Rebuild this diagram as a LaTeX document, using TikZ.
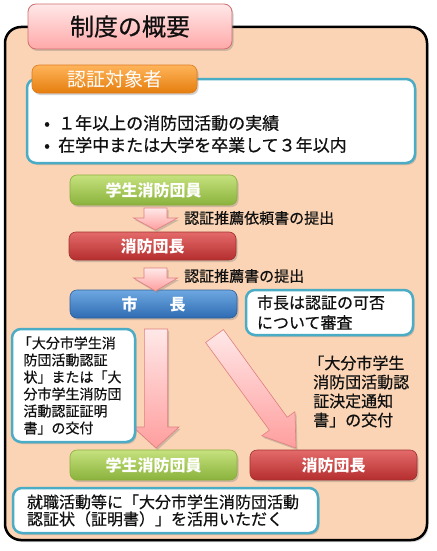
\documentclass[tikz,border=0pt]{standalone}
\usepackage{fontspec}
\setmainfont{Noto Sans CJK JP}
\newfontfamily\jpm[FakeBold=0.6]{Noto Sans CJK JP}
\usetikzlibrary{shadows,calc}
\definecolor{peach}{HTML}{FAD4B4}
\definecolor{nblue}{HTML}{4BACC6}
\definecolor{tttop}{HTML}{FFE8E8}
\definecolor{ttbot}{HTML}{FFA8A8}
\definecolor{ttline}{HTML}{D07070}
\definecolor{ortop}{HTML}{FFB45A}
\definecolor{orbot}{HTML}{E57E0E}
\definecolor{orline}{HTML}{E07B20}
\definecolor{grtop}{HTML}{C6E27E}
\definecolor{grbot}{HTML}{8AB23C}
\definecolor{grline}{HTML}{8AAE3B}
\definecolor{rdtop}{HTML}{E46A6A}
\definecolor{rdbot}{HTML}{B52E2E}
\definecolor{rdline}{HTML}{A03030}
\definecolor{bltop}{HTML}{6EA8E2}
\definecolor{blbot}{HTML}{2E6BB2}
\definecolor{blline}{HTML}{2F5F9A}
\definecolor{artop}{HTML}{FFE8E8}
\definecolor{arbot}{HTML}{FF9E9E}
\definecolor{arline}{HTML}{E08080}
\definecolor{txt}{HTML}{111111}
\newcommand{\blkarrow}[5]{%
  \coordinate (ba-h) at ($(#2)!#5!(#1)$);
  \draw[blockarrow] ($(#1)!#3!90:(#2)$) -- ($(ba-h)!#3!-90:(#1)$) -- ($(ba-h)!#4!-90:(#1)$) -- (#2) -- ($(ba-h)!#4!90:(#1)$) -- ($(ba-h)!#3!90:(#1)$) -- ($(#1)!#3!-90:(#2)$) -- cycle;}
\begin{document}
\begin{tikzpicture}[x=1pt,y=-1pt,
  shad/.style={drop shadow={shadow xshift=1.5pt,shadow yshift=-2pt,opacity=0.35}},
  colbox/.style={shad, rounded corners=7pt, minimum width=167pt, inner sep=0pt, text=white, font=\fontsize{16}{18}\selectfont\bfseries, line width=0.6pt},
  greenbox/.style={colbox, top color=grtop, bottom color=grbot, draw=grline},
  redbox/.style={colbox, top color=rdtop, bottom color=rdbot, draw=rdline},
  bluebox/.style={colbox, top color=bltop, bottom color=blbot, draw=blline},
  notebox/.style={shad, draw=nblue, line width=2.5pt, fill=white, rounded corners=9pt, inner sep=0pt, text=txt},
  blockarrow/.style={shad, top color=artop, bottom color=arbot, draw=arline, line width=0.6pt, line join=miter},
  lab/.style={anchor=west, inner sep=0pt, text=txt, font=\jpm\fontsize{15}{18}\selectfont}
]
\useasboundingbox (0,0) rectangle (436,551);
\fill[white] (0,0) rectangle (436,551);
% main frame
\draw[shad, line width=2.5pt, fill=peach, rounded corners=16pt] (5,27) rectangle (427,540);
% title
\node[shad, draw=ttline, line width=0.8pt, top color=tttop, bottom color=ttbot, rounded corners=8pt, minimum width=204pt, minimum height=45pt, inner sep=0pt, text=txt, font=\jpm\fontsize{24}{28}\selectfont] (title) at (130,26.5) {制度の概要};
% target box
\node[notebox, minimum width=388pt, minimum height=84pt] (critbox) at (221,121) {};
\node[anchor=west, align=left, inner sep=0pt, text=txt, font=\jpm\fontsize{17}{22}\selectfont] (crittext) at (44,134)
  {\makebox[14pt][l]{•}１年以上の消防団活動の実績\\\makebox[14pt][l]{•}在学中または大学を卒業して３年以内};
\node[colbox, top color=ortop, bottom color=orbot, draw=orline, minimum width=165pt, minimum height=28pt, font=\fontsize{19}{22}\selectfont] (crithead) at (114.5,79) {認証対象者};
% flow boxes
\node[greenbox, minimum height=30pt] (g1) at (153.5,190) {学生消防団員};
\node[redbox, minimum height=28pt] (r1) at (152.5,246) {消防団長};
\node[bluebox, minimum height=28pt] (b1) at (153.5,304) {市　　長};
\node[notebox, minimum width=167pt, minimum height=45pt, text width=145pt, align=left, font=\jpm\fontsize{16}{20}\selectfont] (shinsa) at (329.5,312.5) {市長は認証の可否\\について審査};
% arrows
\coordinate (a1s) at (155.5,208); \coordinate (a1t) at (155.5,230);
\coordinate (a2s) at (155.5,268); \coordinate (a2t) at (155.5,291);
\coordinate (a3s) at (156,329);   \coordinate (a3t) at (156,448);
\coordinate (a4s) at (214.5,336); \coordinate (a4t) at (296,448);
\blkarrow{a1s}{a1t}{11.5pt}{22pt}{12pt}
\blkarrow{a2s}{a2t}{11.5pt}{22pt}{13pt}
\blkarrow{a3s}{a3t}{11.7pt}{23pt}{21pt}
\blkarrow{a4s}{a4t}{11pt}{20.5pt}{30pt}
\node[lab] (lab1) at (184,218) {認証推薦依頼書の提出};
\node[lab] (lab2) at (184,276) {認証推薦書の提出};
% left note
\node[notebox, minimum width=123pt, minimum height=113pt, text width=100pt, align=left, font=\jpm\fontsize{14}{17}\selectfont] (lbox) at (73.5,385.5)
  {\hspace*{-0.4em}「大分市学生消\\防団活動認証\\状」または「大\\分市学生消防団\\活動認証証明\\書」の交付};
% right text
\node[anchor=west, align=left, inner sep=0pt, text=txt, font=\jpm\fontsize{16}{19}\selectfont] (rtext) at (313,391.5)
  {\hspace*{-0.3em}「大分市学生\\消防団活動認\\証決定通知\\書」の交付};
% bottom boxes
\node[greenbox, minimum height=30pt] (g2) at (153.5,465) {学生消防団員};
\node[redbox, minimum height=30pt] (r2) at (333.5,465) {消防団長};
\node[notebox, minimum width=305pt, minimum height=45pt, text width=277pt, align=left, font=\jpm\fontsize{16}{17}\selectfont] (bbox) at (165.5,510.5)
  {就職活動等に「大分市学生消防団活動\\認証状（証明書）」を活用いただく};
\end{tikzpicture}
\end{document}
